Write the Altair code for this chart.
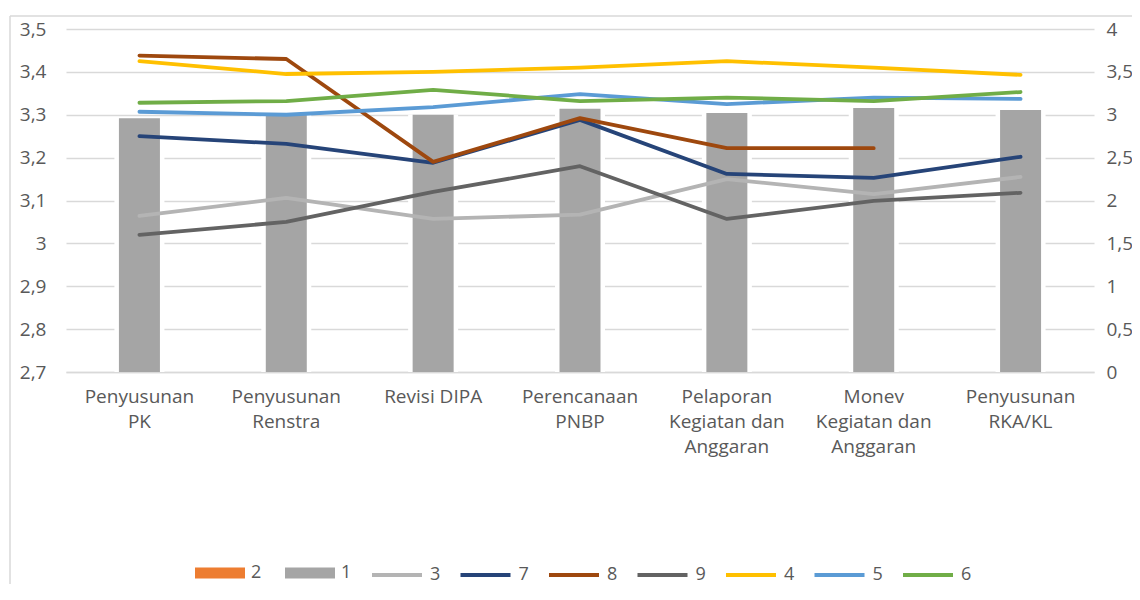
import json
import altair as alt
import pandas as pd

categories = ["Penyusunan PK", "Penyusunan Renstra", "Revisi DIPA", "Perencanaan PNBP",
              "Pelaporan Kegiatan dan Anggaran", "Monev Kegiatan dan Anggaran", "Penyusunan RKA/KL"]
tick_lines = [["Penyusunan", "PK"], ["Penyusunan", "Renstra"], ["Revisi DIPA"],
              ["Perencanaan", "PNBP"], ["Pelaporan", "Kegiatan dan", "Anggaran"],
              ["Monev", "Kegiatan dan", "Anggaran"], ["Penyusunan", "RKA/KL"]]

bar_series = ["2", "1"]
bar_colors = ["#ED7D31", "#A5A5A5"]
s1 = [2.96, 3.00, 3.00, 3.07, 3.02, 3.08, 3.055]

line_series = ["3", "7", "8", "9", "4", "5", "6"]
line_colors = ["#B4B4B4", "#264478", "#9E480E", "#636363", "#FFC000", "#5B9BD5", "#70AD47"]
s3 = [3.064, 3.106, 3.057, 3.067, 3.150, 3.115, 3.155]
s7 = [3.250, 3.232, 3.188, 3.288, 3.162, 3.153, 3.202]
s8 = [3.438, 3.430, 3.190, 3.292, 3.222, 3.222, None]
s9 = [3.020, 3.050, 3.120, 3.180, 3.057, 3.099, 3.118]
s4 = [3.425, 3.395, 3.400, 3.410, 3.425, 3.410, 3.393]
s5 = [3.307, 3.300, 3.318, 3.348, 3.325, 3.340, 3.337]
s6 = [3.328, 3.332, 3.358, 3.332, 3.340, 3.332, 3.353]

left_ticks = [2.7, 2.8, 2.9, 3.0, 3.1, 3.2, 3.3, 3.4, 3.5]
right_ticks = [0, 0.5, 1, 1.5, 2, 2.5, 3, 3.5, 4]

bar_df = pd.DataFrame({"cat": categories, "value": s1, "series": "1"})
rows = []
for name, vals in zip(line_series, [s3, s7, s8, s9, s4, s5, s6]):
    for c, v in zip(categories, vals):
        if v is not None:
            rows.append({"cat": c, "value": v, "series": name, "order": categories.index(c)})
line_df = pd.DataFrame(rows)

FONT = "Open Sans"
TXT = "#595959"
GRID = "#D9D9D9"

label_map = json.dumps(dict(zip(categories, tick_lines)))
x_axis = alt.Axis(title=None, labelAngle=0, labelExpr=f"{label_map}[datum.value]",
                  labelFontSize=19, labelColor=TXT, labelFont=FONT, labelLineHeight=25,
                  labelPadding=15, ticks=False, domainColor=GRID, domainWidth=1.5,
                  labelLimit=200)
x_enc = alt.X("cat:N", sort=categories, scale=alt.Scale(paddingInner=0, paddingOuter=0), axis=x_axis)

right_scale = alt.Scale(domain=[0, 4], nice=False, zero=True)
bar_base = alt.Chart(bar_df)
white_bars = bar_base.mark_bar(size=50, color="white").encode(
    x=x_enc,
    y=alt.Y("value:Q", scale=right_scale,
            axis=alt.Axis(orient="right", title=None, values=right_ticks, grid=False, ticks=False,
                          domain=False, labelFontSize=19, labelColor=TXT, labelFont=FONT,
                          labelPadding=12, labelAlign="left",
                          labelExpr="replace(format(datum.value, '~g'), '.', ',')")),
)
gray_bars = bar_base.mark_bar(size=41).encode(
    x=x_enc,
    y=alt.Y("value:Q", scale=right_scale),
    fill=alt.Fill("series:N", scale=alt.Scale(domain=bar_series, range=bar_colors),
                  legend=alt.Legend(title=None, orient="none", legendX=129, legendY=519,
                                    direction="horizontal", columns=2,
                                    symbolType="M-1,-0.22H1V0.22H-1Z", symbolSize=2500,
                                    symbolStrokeWidth=0, labelFontSize=18, labelColor=TXT,
                                    labelFont=FONT, labelOffset=6, columnPadding=23)),
)
bars = alt.layer(white_bars, gray_bars)

lines = alt.Chart(line_df).mark_line(strokeWidth=3.8, strokeCap="round", strokeJoin="round").encode(
    x=x_enc,
    y=alt.Y("value:Q", scale=alt.Scale(domain=[2.7, 3.5], nice=False, zero=False),
            axis=alt.Axis(orient="left", title=None, values=left_ticks, grid=True, gridColor=GRID,
                          gridWidth=1.5, ticks=False, domain=False, labelFontSize=19,
                          labelColor=TXT, labelFont=FONT, labelPadding=20,
                          labelExpr="replace(format(datum.value, '~g'), '.', ',')")),
    stroke=alt.Stroke("series:N", scale=alt.Scale(domain=line_series, range=line_colors),
                      legend=alt.Legend(title=None, orient="none", legendX=304, legendY=519,
                                        direction="horizontal", columns=7, symbolType="stroke",
                                        symbolSize=2500, symbolStrokeWidth=4, labelFontSize=18,
                                        labelColor=TXT, labelFont=FONT, labelOffset=6,
                                        columnPadding=11.5)),
    order="order:Q",
)

border = alt.Chart(pd.DataFrame({"k": [0]})).mark_rule(color=GRID, strokeWidth=1.5).encode(
    x=alt.value(-56), x2=alt.value(1100), y=alt.value(-13)
)
border_left = alt.Chart(pd.DataFrame({"k": [0]})).mark_rule(color=GRID, strokeWidth=1.5).encode(
    x=alt.value(-56), y=alt.value(-13), y2=alt.value(600)
)

chart = alt.layer(bars, lines, border, border_left).resolve_scale(
    y="independent", fill="independent", stroke="independent"
).properties(
    width=1028, height=343,
    padding={"left": 58, "top": 21, "right": 38, "bottom": 212},
    autosize=alt.AutoSizeParams(type="none"),
).configure_view(stroke=None)

chart.save("out.html", embed_options={"renderer": "svg", "actions": False})
